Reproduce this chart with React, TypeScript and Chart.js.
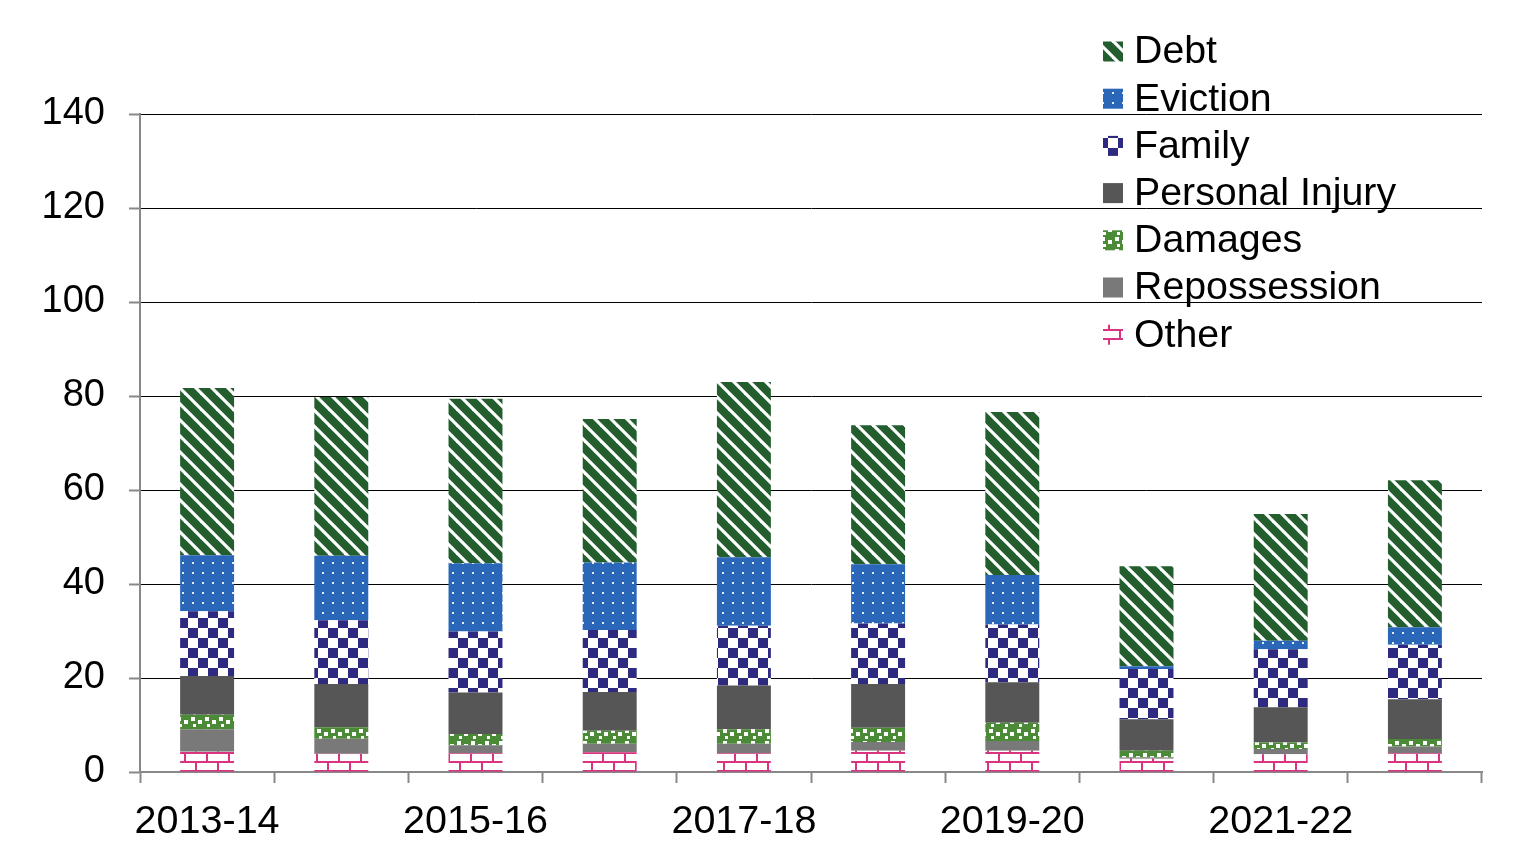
import React, { useEffect, useRef } from "react";
import { Chart, registerables } from "chart.js";

Chart.register(...registerables);

const categories = ["2013-14", "2014-15", "2015-16", "2016-17", "2017-18", "2018-19", "2019-20", "2020-21", "2021-22", "2022-23"];
const otherValues = [4.3, 3.9, 4.0, 4.2, 4.0, 4.5, 4.5, 2.8, 3.8, 4.0];
const repossessionValues = [4.8, 3.2, 1.7, 1.8, 2.0, 1.9, 2.1, 0.3, 1.1, 1.4];
const damagesValues = [3.1, 2.4, 2.4, 2.8, 3.1, 3.0, 3.9, 1.4, 1.4, 1.6];
const personalInjuryValues = [8.2, 9.2, 8.8, 8.2, 9.3, 9.3, 8.6, 6.7, 7.5, 8.5];
const familyValues = [13.8, 13.6, 13.0, 13.2, 12.7, 12.9, 12.3, 10.7, 12.3, 11.6];
const evictionValues = [11.9, 13.7, 14.5, 14.4, 14.6, 12.6, 10.5, 0.6, 1.8, 3.7];
const debtValues = [35.6, 33.8, 35.0, 30.5, 37.3, 29.6, 34.7, 21.3, 27.0, 31.3];
const yTicks = [0, 20, 40, 60, 80, 100, 120, 140];

const FONT = "'Liberation Sans', Arial, sans-serif";

function tile(w: number, h: number, draw: (c: CanvasRenderingContext2D) => void, dy = 0): CanvasPattern | string {
  const cv = document.createElement("canvas");
  cv.width = w;
  cv.height = h;
  const c = cv.getContext("2d")!;
  draw(c);
  const ctx = document.createElement("canvas").getContext("2d")!;
  const pat = ctx.createPattern(cv, "repeat");
  if (!pat) return "#000";
  if (dy && typeof DOMMatrix !== "undefined") pat.setTransform(new DOMMatrix().translate(0, dy));
  return pat;
}

function makePatterns() {
  const debt = tile(16, 16, (c) => {
    c.fillStyle = "#245E2F";
    c.fillRect(0, 0, 16, 16);
    c.strokeStyle = "#ffffff";
    c.lineWidth = 3.2;
    for (const k of [-16, 0, 16]) {
      c.beginPath();
      c.moveTo(k - 2, -2);
      c.lineTo(k + 18, 18);
      c.stroke();
    }
  });
  const eviction = tile(10, 10, (c) => {
    c.fillStyle = "#2B67B9";
    c.fillRect(0, 0, 10, 10);
    c.fillStyle = "#E6EEF8";
    c.fillRect(4, 4, 2, 2);
  });
  const family = tile(20, 20, (c) => {
    c.fillStyle = "#ffffff";
    c.fillRect(0, 0, 20, 20);
    c.fillStyle = "#2E2A80";
    c.fillRect(0, 0, 10, 10);
    c.fillRect(10, 10, 10, 10);
  });
  const damages = tile(14, 12, (c) => {
    c.fillStyle = "#4B8A37";
    c.fillRect(0, 0, 14, 12);
    c.fillStyle = "#ffffff";
    c.fillRect(1, 1, 4, 4);
    c.fillRect(8, 4, 4, 4);
    c.fillRect(3, 8, 3, 3);
  });
  const other = tile(22, 18, (c) => {
    c.fillStyle = "#ffffff";
    c.fillRect(0, 0, 22, 18);
    c.fillStyle = "#D8347F";
    c.fillRect(0, 0, 22, 2);
    c.fillRect(0, 9, 22, 2);
    c.fillRect(0, 0, 2, 9);
    c.fillRect(11, 9, 2, 9);
  }, 6);
  return { debt, eviction, family, damages, other };
}

const legendPlugin = {
  id: "customLegend",
  afterDraw(chart: any) {
    const ctx = chart.ctx;
    const ds = chart.data.datasets;
    ctx.save();
    ctx.font = `39.3px ${FONT}`;
    ctx.textBaseline = "middle";
    ctx.textAlign = "left";
    const x0 = 1095;
    const y0 = 43.5;
    const step = 47.2;
    for (let i = 0; i < ds.length; i++) {
      const d = ds[ds.length - 1 - i];
      const y = y0 + i * step;
      ctx.fillStyle = d.backgroundColor;
      ctx.fillRect(x0, y - 10, 20, 20);
      ctx.fillStyle = "#000000";
      ctx.fillText(d.label, x0 + 31, y + 1);
    }
    ctx.restore();
  },
};

export default function App() {
  const ref = useRef<HTMLCanvasElement>(null);
  useEffect(() => {
    const p = makePatterns();
    const mk = (label: string, data: number[], bg: any) => ({
      label,
      data,
      backgroundColor: bg,
      borderWidth: 0,
      categoryPercentage: 1,
      barPercentage: 0.402,
    });
    const chart = new Chart(ref.current!, {
      type: "bar",
      data: {
        labels: categories,
        datasets: [
          mk("Other", otherValues, p.other),
          mk("Repossession", repossessionValues, "#797979"),
          mk("Damages", damagesValues, p.damages),
          mk("Personal Injury", personalInjuryValues, "#565656"),
          mk("Family", familyValues, p.family),
          mk("Eviction", evictionValues, p.eviction),
          mk("Debt", debtValues, p.debt),
        ],
      },
      options: {
        animation: false,
        responsive: true,
        maintainAspectRatio: false,
        layout: { padding: { top: 106, right: 38, left: 0, bottom: 0 } },
        plugins: { legend: { display: false }, tooltip: { enabled: false } },
        scales: {
          x: {
            stacked: true,
            offset: true,
            afterFit: (s: any) => {
              s.height = 86;
            },
            grid: {
              offset: true,
              drawOnChartArea: false,
              tickLength: 11,
              tickColor: "#888888",
              tickWidth: 2,
            },
            border: { color: "#888888", width: 2 },
            ticks: {
              autoSkip: false,
              maxRotation: 0,
              padding: 15,
              color: "#000000",
              font: { family: FONT, size: 39.5 },
              callback: (_v: any, i: number) => (i % 2 === 0 ? categories[i] : ""),
            },
          },
          y: {
            stacked: true,
            min: 0,
            max: 140,
            afterFit: (s: any) => {
              s.width = 132;
            },
            afterBuildTicks: (s: any) => {
              s.ticks = yTicks.map((v) => ({ value: v }));
            },
            grid: {
              color: (c: any) => (c.tick && c.tick.value === 0 ? "rgba(0,0,0,0)" : "#000000"),
              lineWidth: 1,
              tickLength: 11,
              tickColor: "#888888",
              tickWidth: 2,
            },
            border: { color: "#888888", width: 2 },
            ticks: {
              padding: 24,
              color: "#000000",
              font: { family: FONT, size: 38 },
            },
          },
        },
      },
      plugins: [legendPlugin],
    });
    return () => chart.destroy();
  }, []);
  return (
    <div style={{ width: 1512, height: 850, position: "relative" }}>
      <canvas ref={ref} />
    </div>
  );
}
